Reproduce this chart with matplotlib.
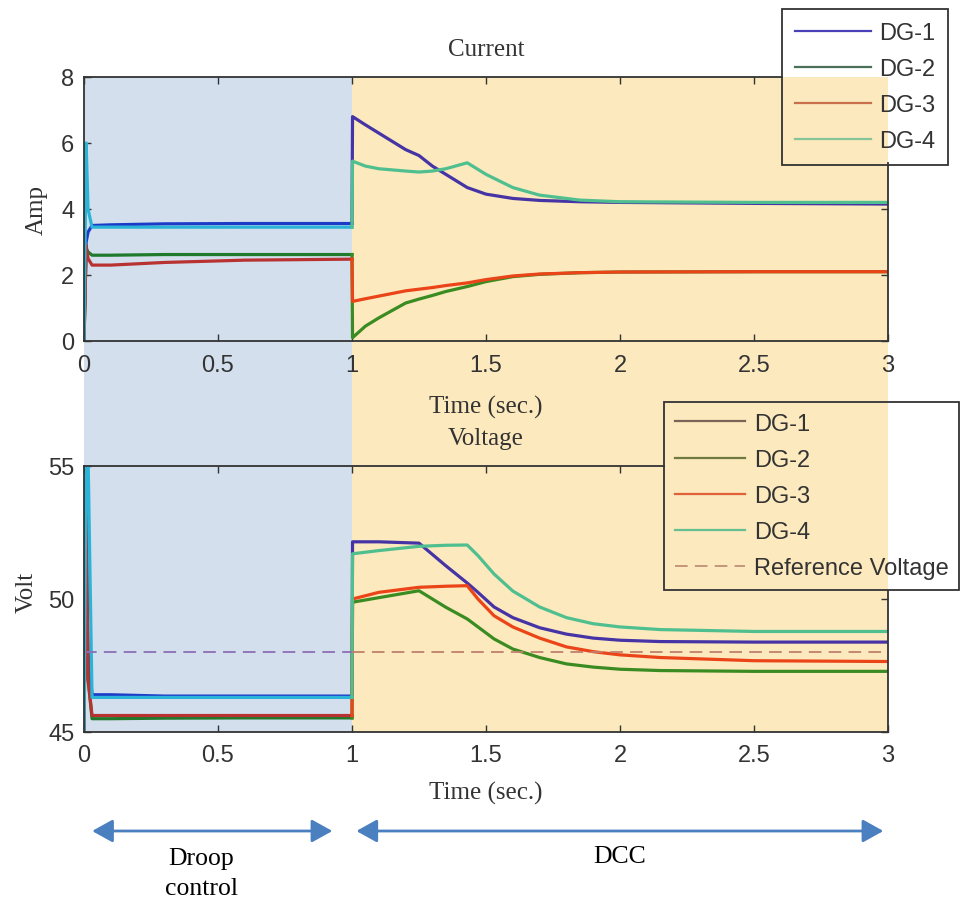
import matplotlib
matplotlib.use('Agg')
import matplotlib.pyplot as plt
from matplotlib.lines import Line2D
from matplotlib.patches import Rectangle, FancyArrowPatch
from matplotlib.transforms import blended_transform_factory

plt.rcParams['font.family'] = ['Liberation Sans', 'DejaVu Sans']
SERIF = ['Liberation Serif', 'DejaVu Serif']

labels = ['DG-1', 'DG-2', 'DG-3', 'DG-4']

# --- data ---
# droop control phase (0 - 1 s), same time grid for current and voltage
t_droop = [0, 0.008, 0.015, 0.03, 0.1, 0.3, 0.6, 1.0]

cur_droop_dg1 = [0, 3.0, 3.3, 3.5, 3.52, 3.55, 3.56, 3.56]
cur_droop_dg2 = [0, 2.8, 2.7, 2.6, 2.6, 2.62, 2.62, 2.62]
cur_droop_dg3 = [0, 2.9, 2.5, 2.3, 2.3, 2.38, 2.45, 2.48]
cur_droop_dg4 = [0, 6.0, 4.0, 3.45, 3.45, 3.45, 3.45, 3.45]

volt_droop_dg1 = [45, 52.5, 48.0, 46.4, 46.4, 46.35, 46.35, 46.35]
volt_droop_dg2 = [45, 53.0, 47.0, 45.5, 45.5, 45.52, 45.53, 45.53]
volt_droop_dg3 = [45, 53.5, 47.0, 45.62, 45.62, 45.62, 45.62, 45.62]
volt_droop_dg4 = [45, 55.5, 55.5, 46.3, 46.3, 46.3, 46.3, 46.3]

# DCC phase (1 - 3 s)
t_dcc_cur = [1.0, 1.002, 1.05, 1.1, 1.2, 1.25, 1.3, 1.35, 1.43, 1.5, 1.6, 1.7, 1.85, 2.0, 2.5, 3.0]
cur_dcc_dg1 = [3.56, 6.8, 6.55, 6.3, 5.8, 5.62, 5.3, 5.05, 4.65, 4.45, 4.32, 4.26, 4.22, 4.2, 4.17, 4.15]
cur_dcc_dg2 = [2.62, 0.1, 0.45, 0.7, 1.15, 1.27, 1.38, 1.5, 1.65, 1.8, 1.95, 2.02, 2.07, 2.09, 2.1, 2.1]
cur_dcc_dg3 = [2.48, 1.2, 1.28, 1.36, 1.52, 1.57, 1.62, 1.68, 1.76, 1.86, 1.97, 2.03, 2.07, 2.09, 2.1, 2.1]
cur_dcc_dg4 = [3.45, 5.45, 5.3, 5.22, 5.15, 5.12, 5.15, 5.22, 5.4, 5.05, 4.65, 4.42, 4.27, 4.22, 4.2, 4.2]

t_dcc_volt = [1.0, 1.002, 1.1, 1.25, 1.35, 1.43, 1.47, 1.53, 1.6, 1.7, 1.8, 1.9, 2.0, 2.15, 2.5, 3.0]
volt_dcc_dg1 = [46.35, 52.15, 52.15, 52.1, 51.25, 50.6, 50.25, 49.7, 49.3, 48.92, 48.68, 48.53, 48.45, 48.4, 48.38, 48.38]
volt_dcc_dg2 = [45.53, 49.88, 50.05, 50.31, 49.69, 49.25, 48.95, 48.5, 48.12, 47.8, 47.56, 47.44, 47.36, 47.31, 47.28, 47.28]
volt_dcc_dg3 = [45.62, 50.0, 50.25, 50.44, 50.48, 50.5, 50.0, 49.37, 48.95, 48.53, 48.2, 48.02, 47.9, 47.8, 47.68, 47.65]
volt_dcc_dg4 = [46.3, 51.7, 51.82, 51.98, 52.02, 52.03, 51.63, 50.94, 50.3, 49.7, 49.3, 49.07, 48.95, 48.85, 48.78, 48.78]

ref_voltage = 48.0

# --- styles ---
droop_colors = ['#1c3cc8', '#207a2c', '#b83232', '#2cb4d8']
dcc_colors = ['#4634a6', '#3a8c22', '#ea4418', '#4fbf8f']
leg1_colors = ['#4a40b8', '#4a705a', '#c8704c', '#88c49a']
leg2_colors = ['#7a6458', '#707a40', '#e0603a', '#64c090']
ref_colors = ['#8c6fb4', '#c0806c']
blue_bg = '#d3dfed'
yellow_bg = '#fce9bd'
arrow_color = '#4a7fc0'
ink = '#333333'

fig = plt.figure(figsize=(9.63, 9.03), dpi=100)
ax1 = fig.add_axes([84 / 963, 1 - 342 / 903, 804 / 963, 264 / 903], facecolor='none')
ax2 = fig.add_axes([84 / 963, 1 - 733 / 903, 804 / 963, 266 / 903], facecolor='none')

cur_droop = [cur_droop_dg1, cur_droop_dg2, cur_droop_dg3, cur_droop_dg4]
cur_dcc = [cur_dcc_dg1, cur_dcc_dg2, cur_dcc_dg3, cur_dcc_dg4]
volt_droop = [volt_droop_dg1, volt_droop_dg2, volt_droop_dg3, volt_droop_dg4]
volt_dcc = [volt_dcc_dg1, volt_dcc_dg2, volt_dcc_dg3, volt_dcc_dg4]

for i in range(4):
    ax1.plot(t_droop, cur_droop[i], color=droop_colors[i], lw=2.3)
    ax1.plot(t_dcc_cur, cur_dcc[i], color=dcc_colors[i], lw=2.3)
    ax2.plot(t_droop, volt_droop[i], color=droop_colors[i], lw=2.3)
    ax2.plot(t_dcc_volt, volt_dcc[i], color=dcc_colors[i], lw=2.3)

ax2.hlines(ref_voltage, 0, 1, colors=ref_colors[0], lw=1.3, linestyles=(0, (7, 4)))
ax2.hlines(ref_voltage, 1, 3, colors=ref_colors[1], lw=1.3, linestyles=(0, (7, 4)))

# background shading for the two control phases, spanning both plots
blend = blended_transform_factory(ax1.transData, fig.transFigure)
y_lo = 1 - 733 / 903
y_hi = 1 - 78 / 903
fig.add_artist(Rectangle((0, y_lo), 1, y_hi - y_lo, transform=blend,
                         facecolor=blue_bg, edgecolor='none', zorder=-2))
fig.add_artist(Rectangle((1, y_lo), 2, y_hi - y_lo, transform=blend,
                         facecolor=yellow_bg, edgecolor='none', zorder=-2))

for ax in (ax1, ax2):
    ax.set_xlim(0, 3)
    ax.set_xticks([0, 0.5, 1, 1.5, 2, 2.5, 3])
    ax.set_xticklabels(['0', '0.5', '1', '1.5', '2', '2.5', '3'])
    ax.tick_params(direction='in', top=True, right=True, length=5, width=1,
                   labelsize=17, color=ink, labelcolor=ink)
    ax.tick_params(axis='x', pad=9)
    ax.tick_params(axis='y', pad=7)
    for s in ax.spines.values():
        s.set_color(ink)
        s.set_linewidth(1.3)
    ax.set_xlabel('Time (sec.)', family=SERIF, fontsize=18, color=ink)

ax1.set_ylim(0, 8)
ax1.set_yticks([0, 2, 4, 6, 8])
ax2.set_ylim(45, 55)
ax2.set_yticks([45, 50, 55])
ax1.xaxis.set_label_coords(0.5, -0.203)
ax2.xaxis.set_label_coords(0.5, -0.185)

ax1.set_title('Current', family=SERIF, fontsize=18, color=ink, pad=16)
ax2.set_title('Voltage', family=SERIF, fontsize=18, color=ink, pad=16)
ax1.set_ylabel('Amp', family=SERIF, fontsize=18, color=ink)
ax1.yaxis.set_label_coords(-0.045, 0.5)
ax2.set_ylabel('Volt', family=SERIF, fontsize=18, color=ink)
ax2.yaxis.set_label_coords(-0.058, 0.53)

# the legends sit over the top-right corners: no frame lines or ticks there
ax1.spines['top'].set_bounds(0, (782 - 84) / 268)
ax1.spines['right'].set_bounds(0, (342 - 164) / 33)
ax2.spines['top'].set_bounds(0, (664 - 84) / 268)
ax2.spines['right'].set_bounds(45, 45 + (733 - 592) / 26.6)
xt1 = ax1.xaxis.get_major_ticks()
xt2 = ax2.xaxis.get_major_ticks()
yt1 = ax1.yaxis.get_major_ticks()
yt2 = ax2.yaxis.get_major_ticks()
xt1[6].tick2line.set_visible(False)
xt2[5].tick2line.set_visible(False)
xt2[6].tick2line.set_visible(False)
yt1[3].tick2line.set_visible(False)
yt1[4].tick2line.set_visible(False)
yt2[2].tick2line.set_visible(False)

# legends
leg_kw = dict(loc='upper left', bbox_transform=fig.transFigure, fontsize=17,
              handletextpad=0.35, labelspacing=0.6, fancybox=False,
              framealpha=1, borderaxespad=0)
h1 = [Line2D([], [], color=c, lw=1.6) for c in leg1_colors]
leg1 = ax1.legend(h1, labels, bbox_to_anchor=(782 / 963, 1 - 10 / 903),
                  handlelength=3.2, borderpad=0.55, **leg_kw)

h2 = [Line2D([], [], color=c, lw=1.6) for c in leg2_colors]
h2.append(Line2D([], [], color='#c09078', lw=1.3, dashes=(7, 4)))
leg2 = ax2.legend(h2, labels + ['Reference Voltage'],
                  bbox_to_anchor=(664 / 963, 1 - 403 / 903),
                  handlelength=3.0, borderpad=0.45, **leg_kw)
for leg in (leg1, leg2):
    leg.get_frame().set_facecolor('none')
    leg.get_frame().set_edgecolor(ink)
    leg.get_frame().set_linewidth(1.3)
    for txt in leg.get_texts():
        txt.set_color(ink)

# phase arrows under the plots
blend2 = blended_transform_factory(ax2.transData, fig.transFigure)
y_arrow = 1 - 832 / 903
for x0, x1 in [(0.02, 0.937), (1.006, 2.993)]:
    fig.add_artist(FancyArrowPatch(
        (x0, y_arrow), (x1, y_arrow), transform=blend2,
        arrowstyle='<|-|>,head_length=0.9,head_width=0.5', mutation_scale=14,
        color=arrow_color, lw=2))
fig.text(0.437, 1 - 874 / 903, 'Droop\ncontrol', transform=blend2, family=SERIF,
         fontsize=18.5, ha='center', va='center', linespacing=1.45, color='black')
fig.text(2.0, 1 - 857 / 903, 'DCC', transform=blend2, family=SERIF,
         fontsize=18.5, ha='center', va='center', color='black')

fig.savefig('out.png', dpi=100)
